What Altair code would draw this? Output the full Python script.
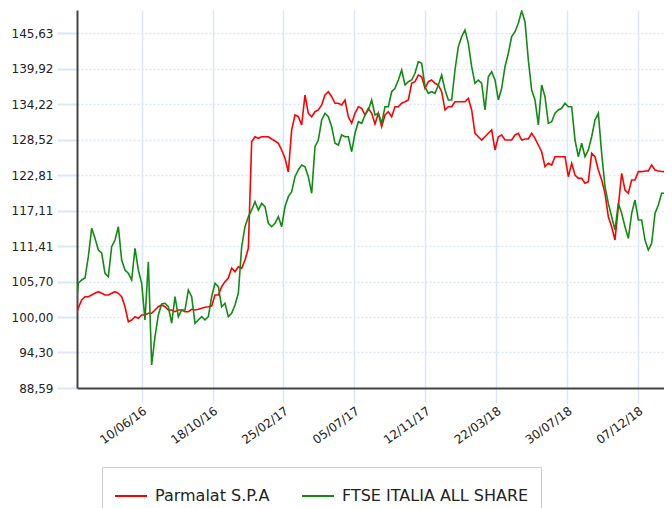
import altair as alt
import pandas as pd
import numpy as np

series_names = ["Parmalat S.P.A", "FTSE ITALIA ALL SHARE"]
series_colors = ["#ff0000", "#138a13"]

# sampling grid of the reading: one reading every ~6.1 days, index 20 = 10/06/2016
grid_anchor = "2016-06-10T00:00:00"
grid_anchor_index = 20
grid_step_days = 6.1117

parmalat = [
    100.00, 101.46, 102.74, 103.27, 103.27, 103.55, 103.82, 104.08, 103.82, 103.55,
    103.55, 103.82, 104.08, 103.82, 103.27, 101.66, 99.25, 99.53, 100.06, 99.80,
    100.33, 100.33, 100.60, 100.60, 101.13, 101.66, 101.94, 101.66, 101.13, 101.13,
    100.86, 101.13, 101.13, 100.86, 100.86, 101.25, 101.13, 101.25, 101.41, 101.57,
    101.66, 101.78, 103.55, 103.55, 104.88, 105.69, 106.28, 107.89, 107.29, 108.10,
    107.84, 109.17, 111.06, 128.20, 129.00, 128.75, 129.00, 129.00, 129.00, 128.63,
    128.31, 127.94, 126.87, 125.53, 123.33, 130.08, 132.49, 132.22, 130.89, 135.71,
    132.77, 132.22, 133.02, 133.30, 134.10, 135.71, 136.24, 135.44, 134.38, 134.38,
    134.10, 134.91, 132.22, 131.16, 132.77, 133.83, 133.57, 132.49, 133.57, 132.77,
    131.05, 132.77, 130.61, 132.49, 133.02, 132.22, 133.83, 133.83, 134.38, 134.63,
    134.91, 137.59, 137.85, 138.93, 138.65, 136.79, 137.85, 138.12, 137.59, 137.32,
    136.24, 133.30, 133.83, 133.83, 134.63, 134.63, 134.63, 134.63, 135.18, 133.30,
    129.55, 129.00, 128.47, 129.00, 129.55, 130.08, 126.87, 129.00, 129.28, 128.47,
    128.47, 128.47, 129.28, 129.55, 128.47, 128.63, 128.63, 129.55, 128.75, 127.67,
    126.59, 124.18, 124.73, 124.45, 125.79, 125.79, 125.79, 125.79, 122.57, 124.73,
    122.84, 122.31, 122.31, 121.51, 121.77, 126.33, 125.79, 123.65, 122.04, 119.90,
    116.14, 114.53, 112.39, 117.75, 123.12, 120.43, 119.90, 122.04, 122.04, 123.38,
    123.38, 123.49, 123.49, 124.45, 123.65, 123.49, 123.41, 123.38, 123.38, 123.38,
]

ftse = [
    100.00, 105.43, 105.96, 106.28, 109.71, 114.27, 112.66, 110.78, 110.30, 107.04,
    106.49, 111.31, 112.39, 114.53, 109.17, 107.57, 107.04, 105.96, 111.06, 107.57,
    105.43, 99.53, 108.90, 92.29, 96.84, 100.33, 102.10, 102.21, 101.66, 99.00,
    103.27, 100.06, 101.13, 101.13, 104.35, 103.27, 99.00, 99.53, 100.06, 99.53,
    100.06, 103.27, 105.43, 104.88, 101.66, 102.21, 100.06, 100.60, 101.94, 103.82,
    111.31, 114.53, 116.14, 117.22, 118.55, 117.22, 118.29, 117.75, 115.08, 114.53,
    115.08, 116.14, 114.53, 117.75, 119.36, 120.16, 122.57, 123.65, 124.45, 124.18,
    122.57, 119.90, 127.40, 128.47, 131.69, 132.77, 132.22, 130.61, 127.94, 127.67,
    129.28, 129.00, 129.00, 126.59, 129.55, 131.42, 131.16, 132.49, 133.30, 134.91,
    132.49, 132.77, 131.16, 133.83, 133.83, 136.24, 136.79, 138.12, 139.73, 137.32,
    137.85, 138.12, 139.20, 141.07, 140.81, 137.04, 135.98, 136.24, 135.98, 137.32,
    138.93, 136.51, 134.91, 134.91, 139.73, 143.48, 145.09, 146.16, 144.02, 140.26,
    137.59, 138.12, 137.59, 133.30, 138.65, 139.46, 138.12, 134.91, 136.79, 140.26,
    142.42, 145.09, 145.89, 147.24, 149.22, 147.50, 141.34, 136.51, 134.91, 130.89,
    137.32, 135.44, 131.16, 131.42, 132.77, 133.30, 133.57, 134.38, 133.83, 133.83,
    128.47, 125.79, 127.94, 125.79, 126.87, 129.00, 131.69, 132.77, 126.33, 120.96,
    118.29, 116.14, 114.00, 118.29, 116.68, 114.53, 112.66, 116.68, 118.82, 115.61,
    115.61, 112.39, 110.78, 111.86, 116.68, 118.02, 119.90, 119.90, 119.90, 122.04,
]

y_ticks = [88.59, 94.30, 100.00, 105.70, 111.41, 117.11, 122.81, 128.52, 134.22, 139.92, 145.63]
y_domain = [88.59, 149.38]
x_ticks = ["2016-06-10", "2016-10-18", "2017-02-25", "2017-07-05",
           "2017-11-12", "2018-03-22", "2018-07-30", "2018-12-07"]
x_domain = ["2016-02-12T10:20:00", "2019-01-23T17:00:00"]

anchor = pd.Timestamp(grid_anchor)
n = len(parmalat)
dates = [anchor + pd.Timedelta(days=(i - grid_anchor_index) * grid_step_days) for i in range(n)]
date_str = [d.strftime("%Y-%m-%dT%H:%M:%S") for d in dates]

df = pd.DataFrame({
    "date": date_str * 2,
    "value": parmalat + ftse,
    "series": [series_names[0]] * n + [series_names[1]] * n,
})


def to_dt(s):
    t = pd.Timestamp(s)
    return alt.DateTime(year=t.year, month=t.month, date=t.day, hours=t.hour, minutes=t.minute)


grid_blue = "#dbe7f6"
font = "DejaVu Sans"

chart = alt.Chart(df).mark_line(strokeWidth=1.6, clip=True).encode(
    x=alt.X(
        "date:T",
        scale=alt.Scale(domain=[to_dt(s) for s in x_domain]),
        axis=alt.Axis(
            values=[to_dt(s) for s in x_ticks],
            format="%d/%m/%y",
            labelAngle=324,
            tickSize=15,
            tickColor=grid_blue,
            tickWidth=1.5,
            gridColor=grid_blue,
            gridWidth=1.5,
            domainColor="#444444",
            domainWidth=2,
            labelPadding=2,
            labelFont=font,
            labelFontSize=12,
            labelColor="#222222",
            title=None,
        ),
    ),
    y=alt.Y(
        "value:Q",
        scale=alt.Scale(domain=y_domain, nice=False, zero=False),
        axis=alt.Axis(
            values=y_ticks,
            labelExpr="replace(format(datum.value, '.2f'), '.', ',')",
            tickSize=20,
            tickColor=grid_blue,
            tickWidth=2,
            gridColor=grid_blue,
            gridWidth=1.5,
            gridDash=[2, 2],
            domainColor="#444444",
            domainWidth=2,
            labelPadding=4,
            labelFont=font,
            labelFontSize=12,
            labelColor="#222222",
            title=None,
        ),
    ),
    color=alt.Color(
        "series:N",
        scale=alt.Scale(domain=series_names, range=series_colors),
        legend=alt.Legend(
            orient="none",
            legendX=25,
            legendY=457,
            direction="horizontal",
            title=None,
            symbolType="stroke",
            symbolSize=1024,
            symbolStrokeWidth=2,
            labelFont=font,
            labelFontSize=16,
            labelColor="#222222",
            labelOffset=7,
            columnPadding=28,
            padding=12,
            strokeColor="#cccccc",
            fillColor="#ffffff",
            labelLimit=400,
        ),
    ),
    order=alt.Order("date:T"),
).properties(
    width=587,
    height=378,
    autosize=alt.AutoSizeParams(type="none"),
    padding={"left": 69, "top": 2, "right": 0, "bottom": 120},
).configure_view(
    stroke="transparent"
)

chart.save("out.html", embed_options={"renderer": "svg", "actions": False})
